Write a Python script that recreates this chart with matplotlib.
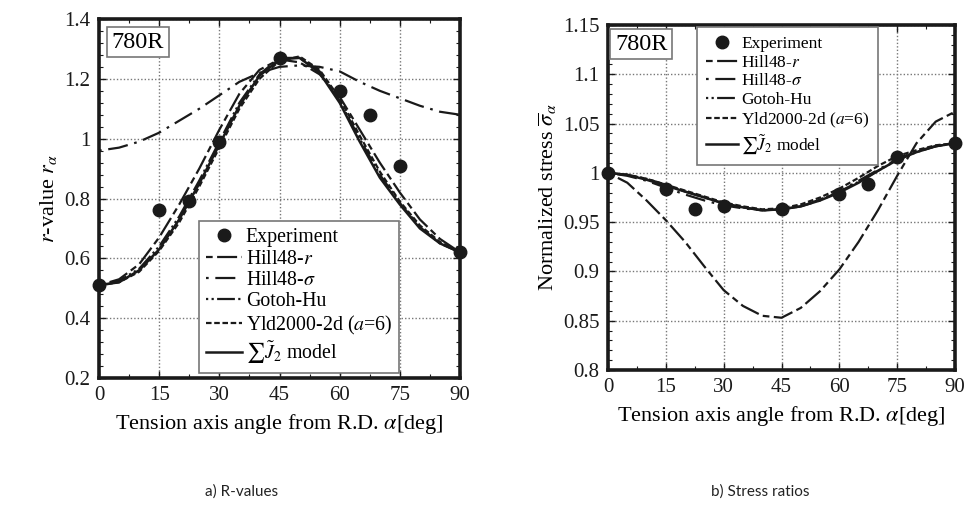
import numpy as np
import matplotlib
matplotlib.use("Agg")
import matplotlib.pyplot as plt
from matplotlib.ticker import MultipleLocator, FuncFormatter

plt.rcParams['font.family'] = ['Liberation Serif', 'DejaVu Serif']
plt.rcParams['mathtext.fontset'] = 'stix'

# ---------- data ----------
ang = [0, 5, 10, 15, 20, 25, 30, 35, 40, 45, 50, 55, 60, 65, 70, 75, 80, 85, 90]
exp_ang = [0, 15, 22.5, 30, 45, 60, 67.5, 75, 90]

# a) r-values
r_exp = [0.51, 0.76, 0.79, 0.99, 1.27, 1.16, 1.08, 0.91, 0.62]
r_hill_r = [0.51, 0.53, 0.58, 0.67, 0.78, 0.90, 1.03, 1.15, 1.23, 1.265, 1.255,
            1.215, 1.14, 1.03, 0.92, 0.82, 0.73, 0.665, 0.62]
r_hill_s = [0.96, 0.97, 0.99, 1.02, 1.06, 1.10, 1.145, 1.19, 1.22, 1.24, 1.245,
            1.24, 1.225, 1.19, 1.16, 1.135, 1.11, 1.09, 1.08]
r_gotoh = [0.51, 0.525, 0.565, 0.64, 0.74, 0.86, 0.99, 1.12, 1.215, 1.27, 1.27,
           1.225, 1.125, 1.0, 0.88, 0.785, 0.705, 0.65, 0.62]
r_yld = [0.51, 0.52, 0.555, 0.625, 0.72, 0.84, 0.97, 1.10, 1.20, 1.26, 1.275,
         1.23, 1.135, 1.01, 0.89, 0.79, 0.71, 0.655, 0.62]
r_j2 = [0.51, 0.52, 0.56, 0.63, 0.73, 0.85, 0.98, 1.11, 1.21, 1.265, 1.27,
        1.22, 1.12, 0.99, 0.87, 0.78, 0.70, 0.65, 0.62]

# b) stress ratios
s_exp = [1.0, 0.984, 0.963, 0.966, 0.963, 0.979, 0.989, 1.016, 1.030]
s_hill_r = [1.0, 0.99, 0.972, 0.952, 0.930, 0.905, 0.881, 0.865, 0.855, 0.853,
            0.863, 0.880, 0.902, 0.930, 0.962, 0.997, 1.030, 1.052, 1.062]
s_hill_s = [1.0, 0.997, 0.992, 0.985, 0.978, 0.972, 0.967, 0.964, 0.962, 0.963,
            0.966, 0.972, 0.981, 0.992, 1.003, 1.014, 1.022, 1.027, 1.030]
s_gotoh = [1.0, 0.998, 0.994, 0.988, 0.981, 0.975, 0.969, 0.965, 0.962, 0.963,
           0.966, 0.973, 0.981, 0.991, 1.002, 1.013, 1.021, 1.027, 1.030]
s_yld = [1.0, 0.998, 0.994, 0.988, 0.982, 0.976, 0.970, 0.966, 0.963, 0.964,
         0.968, 0.975, 0.984, 0.995, 1.007, 1.017, 1.023, 1.028, 1.030]
s_j2 = [1.0, 0.998, 0.993, 0.987, 0.981, 0.975, 0.969, 0.965, 0.962, 0.963,
        0.966, 0.972, 0.980, 0.990, 1.002, 1.013, 1.021, 1.027, 1.030]

labels = ["Experiment", "Hill48-$r$", r"Hill48-$\sigma$", "Gotoh-Hu",
          "Yld2000-2d ($a$=6)", r"$\sum\tilde{J}_2$ model"]

# ---------- helpers ----------
K = '#1a1a1a'
DASH_HR = (0, (3, 2, 9, 2))
DASH_HS = (0, (1.2, 3, 9, 3))
DASH_GH = (0, (1, 1.5, 1, 1.5, 8, 1.5))
DASH_YL = (0, (2.5, 1.2))


def style_axes(ax, ylim, ymaj, ymin):
    ax.set_xlim(0, 90)
    ax.set_ylim(*ylim)
    ax.xaxis.set_major_locator(MultipleLocator(15))
    ax.xaxis.set_minor_locator(MultipleLocator(7.5))
    ax.yaxis.set_major_locator(MultipleLocator(ymaj))
    ax.yaxis.set_minor_locator(MultipleLocator(ymin))
    ax.yaxis.set_major_formatter(FuncFormatter(lambda v, p: f"{v:g}"))
    ax.tick_params(which='both', direction='in', top=True, right=True, colors=K,
                   labelsize=15, pad=6)
    ax.tick_params(which='major', length=5, width=1)
    ax.tick_params(which='minor', length=3, width=0.8)
    ax.grid(True, which='major', linestyle=(0, (1, 1.5)), color='#777777', lw=1)
    for sp in ax.spines.values():
        sp.set_linewidth(2.6)
        sp.set_color(K)
    ax.set_xlabel(r"Tension axis angle from R.D. $\alpha$[deg]", fontsize=16, labelpad=5)


def draw(ax, e, hr, hs, gh, yl, j2):
    ax.plot(exp_ang, e, 'o', color=K, ms=9, zorder=6, clip_on=False, label=labels[0])
    ax.plot(ang, hr, color=K, lw=1.6, ls=DASH_HR, label=labels[1])
    ax.plot(ang, hs, color=K, lw=1.6, ls=DASH_HS, label=labels[2])
    ax.plot(ang, gh, color=K, lw=1.6, ls=DASH_GH, label=labels[3])
    ax.plot(ang, yl, color=K, lw=1.6, ls=DASH_YL, label=labels[4])
    ax.plot(ang, j2, color=K, lw=1.8, ls='-', label=labels[5])


def tag(ax, x, y):
    ax.text(x, y, "780R", transform=ax.transAxes, fontsize=17.5,
            va='top', ha='left', zorder=10,
            bbox=dict(boxstyle='square,pad=0.2', fc='white', ec='#777777', lw=1.2))


fig = plt.figure(figsize=(9.65, 5.12), dpi=100)

# ---------- a) r-values ----------
ax1 = fig.add_axes([99 / 965, 1 - 378 / 512, 361 / 965, 359 / 512])
style_axes(ax1, (0.2, 1.4), 0.2, 0.04)
draw(ax1, r_exp, r_hill_r, r_hill_s, r_gotoh, r_yld, r_j2)
ax1.set_ylabel(r"$r$-value $r_\alpha$", fontsize=16, labelpad=4)
tag(ax1, 0.035, 0.965)
leg1 = ax1.legend(loc='lower left', bbox_to_anchor=(0.277, 0.015), fontsize=14.3,
                  frameon=True, fancybox=False, edgecolor='#777777', framealpha=1,
                  handlelength=1.8, handletextpad=0.2, labelspacing=0.12,
                  borderpad=0.35, borderaxespad=0)
leg1.get_frame().set_linewidth(1.2)
leg1.set_zorder(9)

# ---------- b) stress ratios ----------
ax2 = fig.add_axes([608 / 965, 1 - 370 / 512, 347 / 965, 345 / 512])
style_axes(ax2, (0.8, 1.15), 0.05, 0.01)
draw(ax2, s_exp, s_hill_r, s_hill_s, s_gotoh, s_yld, s_j2)
ax2.set_ylabel(r"Normalized stress $\overline{\sigma}_\alpha$", fontsize=16, labelpad=3)
tag(ax2, 0.02, 0.975)
leg2 = ax2.legend(loc='upper left', bbox_to_anchor=(0.256, 0.994), fontsize=12.5,
                  frameon=True, fancybox=False, edgecolor='#777777', framealpha=1,
                  handlelength=1.9, handletextpad=0.15, labelspacing=0.15,
                  borderpad=0.5, borderaxespad=0)
leg2.get_frame().set_linewidth(1.2)
leg2.set_zorder(9)

# ---------- captions ----------
fig.text(242 / 965, 1 - 492 / 512, "a) R-values", family='Lato',
         fontsize=11, ha='center', va='center', color='#222222')
fig.text(760 / 965, 1 - 492 / 512, "b) Stress ratios", family='Lato',
         fontsize=11, ha='center', va='center', color='#222222')

fig.savefig("out.png", dpi=100)
